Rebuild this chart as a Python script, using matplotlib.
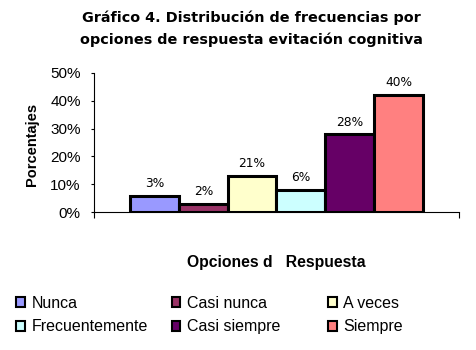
import numpy as np
import matplotlib
matplotlib.use("Agg")
import matplotlib.pyplot as plt
from matplotlib.patches import Patch

categories = ["Nunca", "Casi nunca", "A veces", "Frecuentemente", "Casi siempre", "Siempre"]
heights = [6, 3, 13, 8, 28, 42]
value_labels = ["3%", "2%", "21%", "6%", "28%", "40%"]
colors = ["#9999FF", "#993366", "#FFFFCC", "#CCFFFF", "#660066", "#FF8080"]
yticks = [0, 10, 20, 30, 40, 50]
ytick_labels = ["0%", "10%", "20%", "30%", "40%", "50%"]

W, H = 477, 350
fig = plt.figure(figsize=(W / 100, H / 100), dpi=100)
ax = fig.add_axes([94 / W, 1 - 212.3 / H, (459 - 94) / W, (212.3 - 72.7) / H])

x = np.arange(len(categories)) - (len(categories) - 1) / 2
ax.bar(x, heights, width=1.0, color=colors, edgecolor="black", linewidth=2.2, zorder=3)
for xi, h, lab in zip(x, heights, value_labels):
    ax.annotate(lab, (xi, h), xytext=(0, 4), textcoords="offset points",
                ha="center", va="bottom", fontsize=8.8, family="DejaVu Sans")

ax.set_xlim(-3.74, 3.74)
ax.set_ylim(0, 50)
ax.set_yticks(yticks)
ax.set_yticklabels(ytick_labels, family="Liberation Sans", fontsize=11)
ax.set_xticks([-3.74, 3.74])
ax.set_xticklabels([])
ax.tick_params(axis="y", direction="out", length=2.5, width=0.8, pad=7)
ax.tick_params(axis="x", direction="out", length=4.5, width=0.8)
for s in ["top", "right"]:
    ax.spines[s].set_visible(False)
for s in ["left", "bottom"]:
    ax.spines[s].set_linewidth(0.8)

fig.text(251 / W, 1 - 18 / H, "Gráfico 4. Distribución de frecuencias por",
         ha="center", va="center", fontsize=10.4, fontweight="bold", family="DejaVu Sans")
fig.text(251 / W, 1 - 40 / H, "opciones de respuesta evitación cognitiva",
         ha="center", va="center", fontsize=10.4, fontweight="bold", family="DejaVu Sans")

fig.text(32 / W, 1 - 144 / H, "Porcentajes", rotation=90, ha="center", va="center",
         fontsize=10.5, fontweight="bold", family="Liberation Sans")
fig.text(276 / W, 1 - 262.7 / H, "Opciones d   Respuesta", ha="center", va="center",
         fontsize=11.3, fontweight="bold", family="Liberation Sans")

handles = [Patch(facecolor=c, edgecolor="black", linewidth=1.5) for c in colors]
cols = [(0, 3), (1, 4), (2, 5)]
col_x = [16.5, 171.7, 328]
for (i, j), cx in zip(cols, col_x):
    leg = fig.legend([handles[i], handles[j]], [categories[i], categories[j]],
                     loc="center left", bbox_to_anchor=(cx / W, 1 - 315 / H),
                     frameon=False, borderpad=0, borderaxespad=0,
                     handlelength=0.55, handleheight=0.55, handletextpad=0.4,
                     labelspacing=0.55, prop={"family": "Liberation Sans", "size": 11.5})

fig.savefig("out.png", dpi=100)
